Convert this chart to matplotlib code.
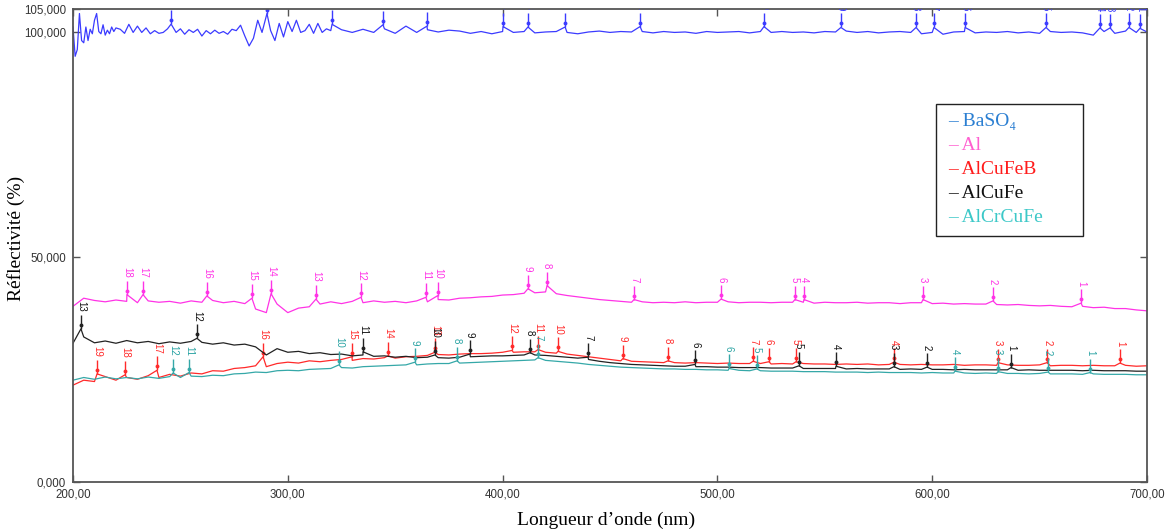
import numpy as np
import matplotlib
matplotlib.use('Agg')
import matplotlib.pyplot as plt
from matplotlib.transforms import offset_copy
from matplotlib.patches import Rectangle

# wavelength grid (nm) shared by the four sample curves
grid_nm = np.arange(200, 701, 5)

# BaSO4 reference is sampled finer where it is noisy
baso4_nm = np.concatenate([np.arange(200, 221, 1), np.arange(222, 321, 2), np.arange(325, 701, 5)])
baso4_val = [
    101.0, 94.5, 96.0, 104.0, 98.0, 97.5, 101.0, 98.0, 100.5, 99.5,
    102.5, 104.0, 100.0, 99.5, 101.5, 99.2, 100.3, 99.5, 101.0, 100.0, 100.8,
    100.5, 99.6, 101.6, 99.8, 101.2, 99.8, 100.8, 99.5, 100.2, 99.6,
    99.8, 100.6, 101.4, 99.8, 100.6, 99.4, 100.4, 99.8, 100.5, 99.0,
    100.2, 99.5, 100.3, 99.6, 100.0, 99.4, 100.5, 100.2, 101.4, 99.0,
    96.8, 98.5, 102.5, 99.8, 103.5, 100.2, 98.0, 101.8, 98.8, 102.2,
    100.0, 102.5, 99.8, 100.2, 101.6, 99.6, 101.8, 99.8, 100.6, 100.2,
    100.4, 99.8, 100.5, 99.8, 100.6, 99.6, 101.2, 99.8, 100.4, 99.9,
    100.3, 100.1, 99.6, 100.0, 99.5, 100.0, 99.8, 100.0, 99.7, 99.9,
    100.0, 99.8, 99.5, 99.9, 100.1, 99.8, 100.0, 99.9, 100.0, 99.7,
    100.0, 99.8, 99.9, 99.6, 100.0, 99.8, 99.9, 100.0, 99.7, 100.0,
    99.8, 100.0, 99.8, 99.9, 99.7, 100.0, 99.9, 100.1, 99.8, 100.0,
    99.7, 99.9, 100.0, 99.8, 99.5, 99.8, 99.4, 99.9, 100.0, 99.7,
    99.9, 99.8, 100.0, 99.7, 99.9, 99.6, 100.0, 99.8, 99.9, 99.7,
    99.2, 100.0, 99.6, 100.1, 99.8, 99.9,
]

al_val = [
    39.0, 40.8, 40.3, 40.0, 40.4, 40.1, 39.8, 40.2, 39.9, 40.1,
    39.7, 40.2, 39.9, 40.3, 39.8, 40.1, 39.6, 38.4, 37.6, 39.5,
    37.6, 38.6, 38.9, 39.5, 40.0, 39.6, 40.1, 39.8, 40.2, 39.9,
    40.1, 39.8, 40.2, 40.0, 40.5, 40.4, 40.8, 40.9, 41.1, 41.2,
    41.5, 41.6, 41.9, 42.0, 42.2, 41.8, 41.4, 41.1, 40.8, 40.5,
    40.3, 40.1, 39.9, 40.0, 39.8, 39.9, 39.8, 40.0, 39.8, 39.9,
    39.9, 40.0, 39.8, 39.9, 39.9, 39.8, 39.9, 39.9, 39.9, 39.7,
    39.9, 39.8, 39.8, 39.9, 39.7, 39.8, 39.8, 39.6, 39.8, 39.8,
    39.6, 39.7, 39.5, 39.6, 39.5, 39.5, 39.4, 39.3, 39.4, 39.2,
    39.1, 39.2, 39.0, 38.9, 39.0, 38.7, 38.8, 38.5, 38.5, 38.2,
    38.0,
]

alcufeb_val = [
    21.5, 22.6, 22.3, 23.4, 22.6, 23.2, 22.8, 23.6, 23.2, 23.9,
    23.5, 24.2, 24.0, 24.7, 24.6, 25.2, 25.4, 25.8, 25.6, 26.3,
    26.6, 26.4, 26.9, 26.7, 27.0, 27.2, 27.0, 27.4, 27.3, 27.6,
    27.5, 27.8, 27.9, 28.1, 28.3, 28.2, 28.4, 28.5, 28.5, 28.6,
    28.8, 28.8, 28.9, 28.9, 28.8, 28.6, 28.4, 28.1, 27.8, 27.5,
    27.2, 26.9, 26.8, 26.7, 26.6, 26.5, 26.5, 26.4, 26.5, 26.4,
    26.3, 26.4, 26.3, 26.3, 26.3, 26.2, 26.3, 26.2, 26.3, 26.2,
    26.2, 26.1, 26.2, 26.1, 26.2, 26.0, 26.1, 26.1, 26.0, 26.1,
    26.0, 26.0, 26.1, 25.9, 26.0, 26.0, 25.9, 26.0, 25.9, 25.9,
    26.0, 25.8, 25.9, 25.9, 25.8, 25.9, 25.8, 25.8, 25.9, 25.7,
    25.8,
]

alcufe_val = [
    30.8, 32.2, 30.9, 31.3, 30.8, 31.4, 30.9, 31.2, 30.7, 31.1,
    30.8, 31.2, 31.0, 30.6, 30.9, 30.4, 30.6, 30.0, 28.2, 29.6,
    28.8, 29.0, 28.5, 28.7, 28.3, 28.4, 28.0, 28.2, 27.9, 28.0,
    27.7, 27.9, 27.6, 27.7, 27.6, 27.5, 27.7, 27.8, 27.9, 28.0,
    28.0, 28.1, 28.2, 28.2, 28.1, 27.9, 27.7, 27.5, 27.2, 26.8,
    26.5, 26.3, 26.1, 26.0, 25.9, 25.8, 25.7, 25.7, 25.6, 25.6,
    25.5, 25.5, 25.4, 25.4, 25.4, 25.3, 25.3, 25.3, 25.2, 25.2,
    25.2, 25.2, 25.1, 25.2, 25.1, 25.1, 25.1, 25.0, 25.1, 25.0,
    25.0, 25.0, 24.9, 25.0, 24.9, 24.9, 24.9, 24.9, 24.8, 24.9,
    24.8, 24.8, 24.8, 24.8, 24.7, 24.8, 24.7, 24.7, 24.7, 24.6,
    24.6,
]

alcrcufe_val = [
    22.6, 23.2, 22.8, 23.3, 22.9, 23.2, 22.9, 23.3, 23.0, 23.4,
    23.2, 23.5, 23.4, 23.7, 23.6, 24.0, 24.1, 24.4, 24.3, 24.7,
    24.8, 24.7, 25.0, 25.1, 25.2, 25.4, 25.3, 25.6, 25.7, 25.8,
    25.9, 26.0, 26.0, 26.2, 26.3, 26.3, 26.4, 26.5, 26.6, 26.7,
    26.8, 26.9, 27.0, 27.1, 27.0, 26.8, 26.6, 26.4, 26.1, 25.9,
    25.7, 25.5, 25.4, 25.3, 25.2, 25.1, 25.1, 25.0, 25.0, 24.9,
    24.9, 24.8, 24.8, 24.7, 24.7, 24.6, 24.6, 24.6, 24.5, 24.5,
    24.5, 24.4, 24.4, 24.4, 24.3, 24.4, 24.3, 24.3, 24.3, 24.2,
    24.3, 24.2, 24.2, 24.2, 24.1, 24.2, 24.1, 24.1, 24.1, 24.0,
    24.1, 24.0, 24.0, 24.0, 23.9, 24.0, 23.9, 23.9, 23.9, 23.8,
    23.8,
]

# numbered peaks picked by the software (position nm, value %)
baso4_pk_nm = [245.6, 290.3, 320.6, 344.3, 364.8, 400.2, 411.8, 429.1, 464.0, 521.7,
               557.5, 592.5, 600.8, 615.3, 653.0, 678.1, 682.8, 691.6, 696.7]
baso4_pk_val = [101.6, 104.0, 101.6, 101.5, 101.2, 101.1, 101.0, 101.0, 101.1, 101.1,
                100.9, 100.9, 100.9, 100.9, 100.9, 100.8, 100.8, 100.9, 100.7]

al_pk_nm = [225.1, 232.6, 262.3, 283.3, 292.2, 313.1, 334.1, 364.3, 369.9, 411.8,
            420.7, 461.2, 501.7, 536.1, 540.3, 595.7, 628.3, 669.3]
al_pk_val = [41.6, 41.6, 41.3, 40.8, 41.8, 40.6, 41.0, 41.0, 41.4, 42.9,
             43.6, 40.5, 40.6, 40.5, 40.5, 40.5, 40.2, 39.7]

alcufeb_pk_nm = [211.2, 224.2, 239.1, 288.5, 329.9, 346.6, 368.5, 404.4, 416.5, 425.8,
                 456.0, 477.0, 516.6, 524.0, 536.6, 582.2, 630.6, 653.5, 687.4]
alcufeb_pk_val = [24.0, 23.8, 24.8, 27.8, 27.8, 28.0, 28.8, 29.2, 29.4, 29.0,
                  27.4, 26.9, 26.8, 26.7, 26.7, 26.6, 26.5, 26.5, 26.4]

alcufe_pk_nm = [203.7, 257.7, 335.0, 368.5, 384.8, 412.8, 439.8, 489.6, 538.0, 555.2,
                582.2, 597.6, 636.7]
alcufe_pk_val = [34.0, 31.9, 28.9, 28.2, 28.4, 28.7, 27.7, 26.1, 25.8, 25.7,
                 25.6, 25.5, 25.4]

alcrcufe_pk_nm = [246.6, 254.0, 323.8, 359.2, 378.8, 416.5, 505.4, 518.4, 610.6, 630.6,
                  653.9, 673.5]
alcrcufe_pk_val = [24.2, 24.3, 26.0, 26.6, 26.9, 27.6, 25.2, 25.1, 24.6, 24.5,
                   24.4, 24.3]

legend_names = ['BaSO\u2084', 'Al', 'AlCuFeB', 'AlCuFe', 'AlCrCuFe']
legend_colors = ['#2b7fd2', '#ff5fd0', '#ff1c1c', '#111111', '#3cc8c8']

x_ticks = [200, 300, 400, 500, 600, 700]
x_ticklabels = ['200,00', '300,00', '400,00', '500,00', '600,00', '700,00']
y_ticks = [0, 50, 100, 105]
y_ticklabels = ['0,000', '50,000', '100,000', '105,000']

SERIF = ['Liberation Serif', 'DejaVu Serif']
SANS = ['Liberation Sans', 'DejaVu Sans']

W, H = 1166, 532
fig = plt.figure(figsize=(W / 100, H / 100), dpi=100)
ax = fig.add_axes([73 / W, 50 / H, 1074 / W, 473 / H])


def merge(x, y, px, py):
    xs = np.concatenate([np.asarray(x, float), np.asarray(px, float)])
    ys = np.concatenate([np.asarray(y, float), np.asarray(py, float)])
    order = np.argsort(xs, kind='stable')
    return xs[order], ys[order]


series = [
    (baso4_nm, baso4_val, baso4_pk_nm, baso4_pk_val, '#3b3bff', '#3b3bff'),
    (grid_nm, al_val, al_pk_nm, al_pk_val, '#ff33e6', '#ff33e6'),
    (grid_nm, alcufeb_val, alcufeb_pk_nm, alcufeb_pk_val, '#ff2a2a', '#ff2a2a'),
    (grid_nm, alcufe_val, alcufe_pk_nm, alcufe_pk_val, '#222222', '#111111'),
    (grid_nm, alcrcufe_val, alcrcufe_pk_nm, alcrcufe_pk_val, '#35a8a8', '#2aa3a3'),
]

stem_tr = offset_copy(ax.transData, fig=fig, x=0, y=7, units='dots')
dot_tr = offset_copy(ax.transData, fig=fig, x=0, y=4, units='dots')
label_tr = offset_copy(ax.transData, fig=fig, x=0, y=17, units='dots')

for x, y, px, py, col, tcol in series:
    mx, my = merge(x, y, px, py)
    ax.plot(mx, my, color=col, lw=0.9)
    ax.plot(px, py, ls='none', marker='|', ms=10, mew=1.0, color=col, transform=stem_tr)
    ax.plot(px, py, ls='none', marker='o', ms=2.8, mew=0, color=col, transform=dot_tr)
    n = len(px)
    for i, (xx, yy) in enumerate(zip(px, py)):
        ax.text(xx, yy, str(n - i), transform=label_tr, rotation=270,
                ha='center', va='bottom', fontsize=7, color=tcol,
                family=SANS, clip_on=True)

ax.set_xlim(200, 700)
ax.set_ylim(0, 105)
ax.set_xticks(x_ticks)
ax.set_xticklabels(x_ticklabels)
ax.set_yticks(y_ticks)
ax.set_yticklabels(y_ticklabels)
ax.tick_params(direction='in', length=5, width=1, color='#555555',
               top=True, right=True, labelsize=8.3, labelcolor='#333333', pad=5)
for lab in ax.get_xticklabels() + ax.get_yticklabels():
    lab.set_family(SANS)
for sp in ax.spines.values():
    sp.set_color('#555555')
    sp.set_linewidth(1.3)

fig.text(16 / W, 1 - 238 / H, 'Réflectivité (%)', rotation=90, ha='center',
         va='center', fontsize=14, family=SERIF)
fig.text(606 / W, 1 - 520 / H, 'Longueur d\u2019onde (nm)', ha='center',
         va='center', fontsize=14, family=SERIF)

# legend box drawn by hand, like the original export
box = Rectangle((936 / W, 1 - 236 / H), (1083 - 936) / W, (236 - 104) / H,
                transform=fig.transFigure, facecolor='white', edgecolor='#222222', lw=1.0)
fig.add_artist(box)
for i, (name, col) in enumerate(zip(legend_names, legend_colors)):
    fig.text(948 / W, 1 - (122 + 24 * i) / H, '\u2013 ' + name, color=col,
             ha='left', va='center', fontsize=14, family=SERIF)

fig.savefig('out.png', dpi=100)
